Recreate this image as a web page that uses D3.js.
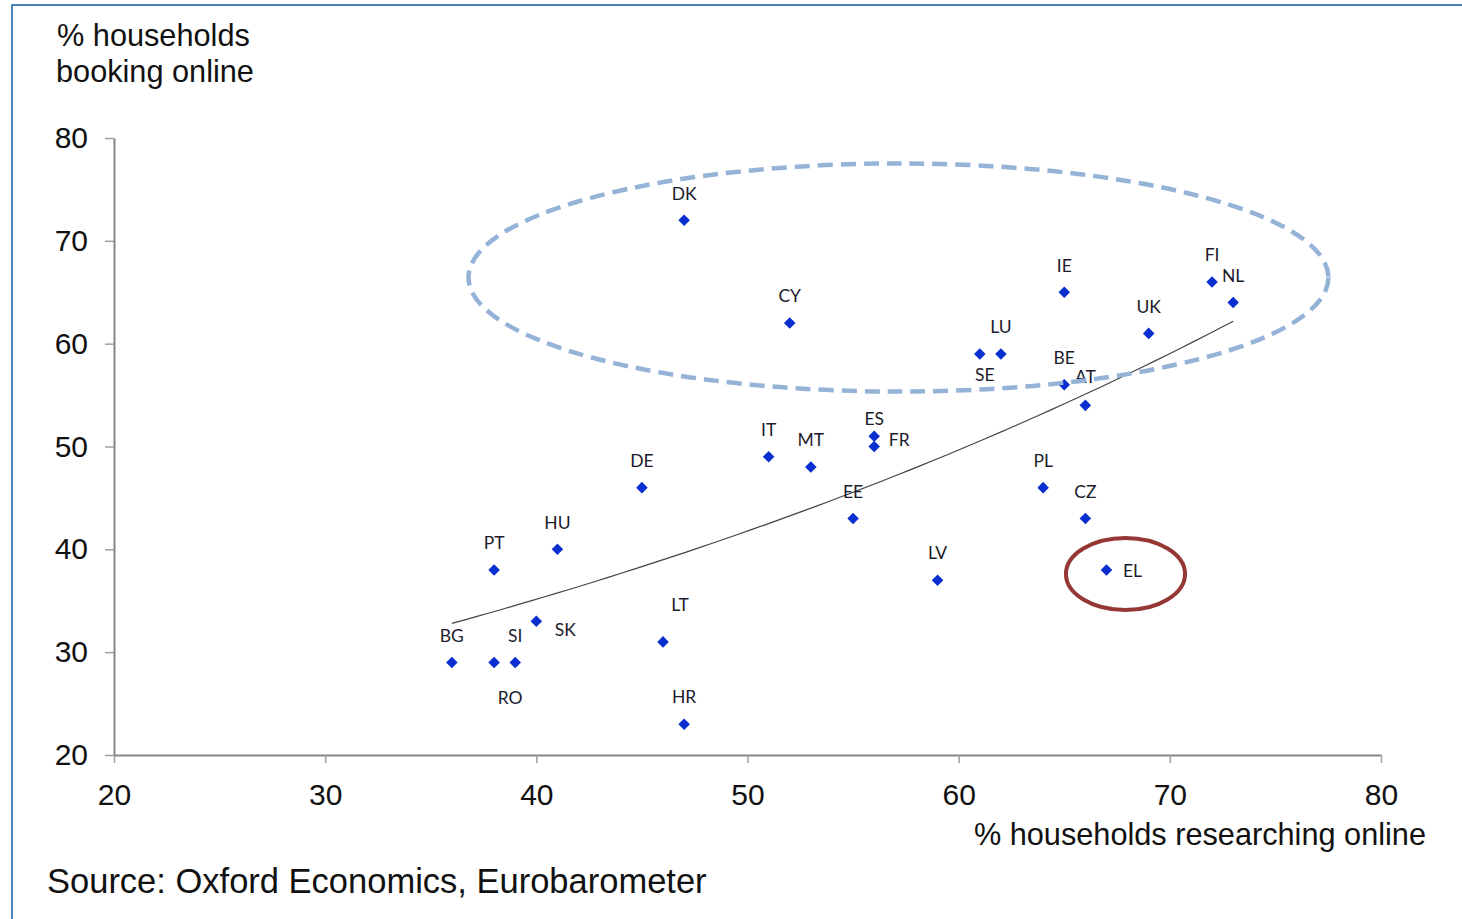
<!DOCTYPE html>
<html>
<head>
<meta charset="utf-8">
<script src="https://cdn.jsdelivr.net/npm/d3@7"></script>
<style>
  body { margin: 0; background: #fff; }
  svg { display: block; }
</style>
</head>
<body>
<div id="chart"></div>
<script>
// countries, % researching online (x) and % booking online (y)
const countries = ["DK","CY","IE","FI","NL","UK","LU","SE","BE","AT","ES","FR","IT","MT","DE","EE",
                   "PL","CZ","EL","LV","HU","PT","SK","LT","BG","RO","SI","HR"];
const researching = [47,52,65,72,73,69,62,61,65,66,56,56,51,53,45,55,64,66,67,59,41,38,40,46,36,38,39,47];
const booking     = [72,62,65,66,64,61,59,59,56,54,51,50,49,48,46,43,46,43,38,37,40,38,33,31,29,29,29,23];

const xTicks = [20,30,40,50,60,70,80];
const yTicks = [20,30,40,50,60,70,80];

// highlight ellipses in data units: [cx, cy, rx, ry]
const topGroupEllipse = [57.15, 66.43, 20.36, 11.09];
const greeceEllipse   = [67.9, 37.6, 2.82, 3.5];

// label placement (px from the marker), default is straight above
const labelOffset = {
  SE: [5, 21], ES: [0, -18], FR: [25, -7], EL: [26, 1], SK: [29, 8],
  LT: [17, -37], RO: [16, 35], AT: [0, -29]
};

const width = 1462, height = 919;
const points = countries.map((c, i) => ({code: c, x: researching[i], y: booking[i]}));

const x = d3.scaleLinear().domain([20, 80]).range([114, 1381]);
const y = d3.scaleLinear().domain([20, 80]).range([755, 138]);

const svg = d3.select("#chart").append("svg")
    .attr("width", width)
    .attr("height", height);

svg.append("rect").attr("width", width).attr("height", height).attr("fill", "#fff");

// blue frame (left + top edges)
svg.append("path")
    .attr("d", `M12,${height} L12,5 L${width},5`)
    .attr("fill", "none")
    .attr("stroke", "#4f81bd")
    .attr("stroke-width", 2);

// axes
const axisColor = "#868686";
const styleAxis = g => {
  g.select(".domain").attr("stroke", axisColor).attr("stroke-width", 2);
  g.selectAll(".tick line").attr("stroke", "#a0a0a0").attr("stroke-width", 1.5);
  g.selectAll(".tick text")
      .attr("fill", "#111")
      .attr("font-family", "'Liberation Sans', Arial, sans-serif")
      .attr("font-size", 30);
};

svg.append("g")
    .attr("transform", `translate(0,${y(20)})`)
    .call(d3.axisBottom(x).tickValues(xTicks).tickSize(8).tickSizeOuter(0).tickPadding(21))
    .call(styleAxis);

svg.append("g")
    .attr("transform", `translate(${x(20)},0)`)
    .call(d3.axisLeft(y).tickValues(yTicks).tickSize(9).tickSizeOuter(0).tickPadding(17))
    .call(styleAxis);

// exponential trendline fitted on ln(y)
const mx = d3.mean(points, d => d.x);
const ml = d3.mean(points, d => Math.log(d.y));
const b = d3.sum(points, d => (d.x - mx) * (Math.log(d.y) - ml)) / d3.sum(points, d => (d.x - mx) ** 2);
const a = Math.exp(ml - b * mx);
const [x0, x1] = d3.extent(points, d => d.x);
const trend = d3.range(0, 61).map(i => {
  const xv = x0 + (x1 - x0) * i / 60;
  return [xv, a * Math.exp(b * xv)];
});
svg.append("path")
    .datum(trend)
    .attr("fill", "none")
    .attr("stroke", "#444")
    .attr("stroke-width", 1.2)
    .attr("d", d3.line().x(d => x(d[0])).y(d => y(d[1])));

// markers
svg.append("g")
  .selectAll("path")
  .data(points)
  .join("path")
    .attr("transform", d => `translate(${x(d.x)},${y(d.y)})`)
    .attr("d", d3.symbol(d3.symbolDiamond2, 85))
    .attr("fill", "#0a2fd0");

// labels
svg.append("g")
    .attr("font-family", "Lato, 'Open Sans', sans-serif")
    .attr("font-size", 17.5)
    .attr("fill", "#1c1c2c")
    .attr("text-anchor", "middle")
  .selectAll("text")
  .data(points)
  .join("text")
    .attr("x", d => x(d.x) + (labelOffset[d.code] || [0, -27])[0])
    .attr("y", d => y(d.y) + (labelOffset[d.code] || [0, -27])[1])
    .attr("dy", "0.36em")
    .text(d => d.code);

// highlight ellipses
svg.append("ellipse")
    .attr("cx", x(topGroupEllipse[0]))
    .attr("cy", y(topGroupEllipse[1]))
    .attr("rx", x(20 + topGroupEllipse[2]) - x(20))
    .attr("ry", y(20) - y(20 + topGroupEllipse[3]))
    .attr("fill", "none")
    .attr("stroke", "#95b3d7")
    .attr("stroke-width", 4.5)
    .attr("stroke-dasharray", "15 8");

svg.append("ellipse")
    .attr("cx", x(greeceEllipse[0]))
    .attr("cy", y(greeceEllipse[1]))
    .attr("rx", x(20 + greeceEllipse[2]) - x(20))
    .attr("ry", y(20) - y(20 + greeceEllipse[3]))
    .attr("fill", "none")
    .attr("stroke", "#953735")
    .attr("stroke-width", 4);

// titles
const titleFont = "'Liberation Sans', Arial, sans-serif";
const yTitle = svg.append("text")
    .attr("font-family", titleFont)
    .attr("font-size", 30.7)
    .attr("fill", "#111");
yTitle.append("tspan").attr("x", 57).attr("y", 46).text("% households");
yTitle.append("tspan").attr("x", 56).attr("y", 82).text("booking online");

svg.append("text")
    .attr("x", 1426).attr("y", 845)
    .attr("text-anchor", "end")
    .attr("font-family", titleFont)
    .attr("font-size", 30.7)
    .attr("fill", "#111")
    .text("% households researching online");

svg.append("text")
    .attr("x", 47).attr("y", 893)
    .attr("font-family", titleFont)
    .attr("font-size", 34.5)
    .attr("fill", "#111")
    .text("Source: Oxford Economics, Eurobarometer");
</script>
</body>
</html>
